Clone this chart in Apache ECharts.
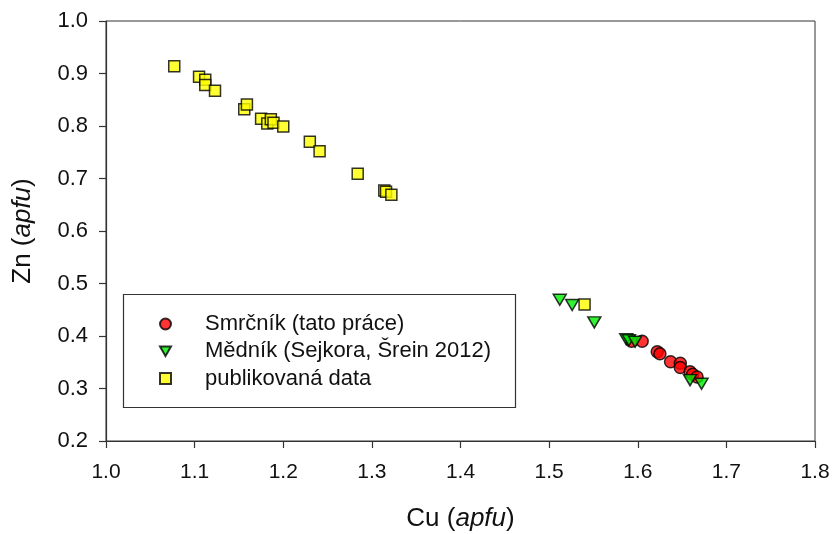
<!DOCTYPE html>
<html>
<head>
<meta charset="utf-8">
<script src="https://cdn.jsdelivr.net/npm/echarts@6/dist/echarts.min.js"></script>
<style>
  html, body { margin: 0; padding: 0; background: #fff; }
  #chart { width: 832px; height: 534px; }
</style>
</head>
<body>
<div id="chart"></div>
<script>
// Cu vs Zn (apfu)
const seriesNames = ['Smrčník (tato práce)', 'Mědník (Sejkora, Šrein 2012)', 'publikovaná data']

const smrcnik = [
  [1.593, 0.390], [1.605, 0.390], [1.622, 0.370], [1.625, 0.366], [1.637, 0.351],
  [1.648, 0.348], [1.648, 0.340], [1.659, 0.332], [1.662, 0.327], [1.667, 0.322]
]
const mednik = [
  [1.512, 0.469], [1.526, 0.459], [1.551, 0.426], [1.587, 0.394], [1.590, 0.392],
  [1.597, 0.389], [1.659, 0.316], [1.672, 0.309]
]
const publikovana = [
  [1.077, 0.914], [1.105, 0.894], [1.112, 0.888], [1.112, 0.878], [1.123, 0.867],
  [1.156, 0.832], [1.159, 0.841], [1.175, 0.814], [1.182, 0.805], [1.186, 0.813],
  [1.189, 0.806], [1.200, 0.799], [1.230, 0.770], [1.241, 0.752], [1.284, 0.709],
  [1.314, 0.677], [1.316, 0.675], [1.322, 0.669], [1.540, 0.460]
]

const font = 'Liberation Sans, Arial, sans-serif'
const ink = '#111'
const triangleDown = 'path://M0,0 L10,0 L5,8.7 Z'

const chart = echarts.init(document.getElementById('chart'))
const markerBorder = { borderColor: '#000', borderWidth: 1.5 }
const titleRich = {
  n: { fontFamily: font, fontSize: 26, color: ink },
  i: { fontFamily: font, fontSize: 26, color: ink, fontStyle: 'italic' }
}

chart.setOption({
  animation: false,
  grid: {
    left: 106, right: 17, top: 21, bottom: 93,
    outerBoundsMode: 'none',
    show: true, borderColor: '#333', borderWidth: 1
  },
  legend: {
    orient: 'vertical',
    left: 154, top: 308,
    itemWidth: 11, itemHeight: 11,
    itemGap: 5.3,
    textStyle: { fontFamily: font, fontSize: 22, color: ink, padding: [0, 0, 0, 29] },
    data: seriesNames
  },
  graphic: [{
    type: 'rect',
    shape: { x: 123.5, y: 294.5, width: 392, height: 113 },
    style: { fill: 'none', stroke: '#333', lineWidth: 1.2 },
    z: 10
  }],
  xAxis: {
    type: 'value', min: 1.0, max: 1.8, interval: 0.1,
    name: '{n|Cu (}{i|apfu}{n|)}',
    nameLocation: 'middle', nameGap: 65,
    nameTextStyle: { rich: titleRich },
    axisLine: { onZero: false, lineStyle: { color: '#333', width: 1.2 } },
    axisTick: { show: true, inside: false, length: 7, lineStyle: { color: '#333', width: 1.2 } },
    axisLabel: {
      margin: 21, fontFamily: font, fontSize: 21, color: ink,
      formatter: v => v.toFixed(1)
    },
    splitLine: { show: false }
  },
  yAxis: {
    type: 'value', min: 0.2, max: 1.0, interval: 0.1,
    name: '{n|Zn (}{i|apfu}{n|)}',
    nameLocation: 'middle', nameGap: 70, nameRotate: 90,
    nameTextStyle: { rich: titleRich },
    axisLine: { onZero: false, lineStyle: { color: '#333', width: 1.2 } },
    axisTick: { show: true, inside: false, length: 7, lineStyle: { color: '#333', width: 1.2 } },
    axisLabel: {
      margin: 18, fontFamily: font, fontSize: 22, color: ink,
      formatter: v => v.toFixed(1)
    },
    splitLine: { show: false }
  },
  series: [
    {
      name: seriesNames[0], type: 'scatter', data: smrcnik,
      symbol: 'circle', symbolSize: 12,
      itemStyle: { color: '#ff0000', ...markerBorder }
    },
    {
      name: seriesNames[1], type: 'scatter', data: mednik,
      symbol: triangleDown, symbolSize: [13, 11],
      itemStyle: { color: '#00ee00', ...markerBorder }
    },
    {
      name: seriesNames[2], type: 'scatter', data: publikovana,
      symbol: 'rect', symbolSize: 11,
      itemStyle: { color: '#ffff00', ...markerBorder }
    }
  ]
})
</script>
</body>
</html>
